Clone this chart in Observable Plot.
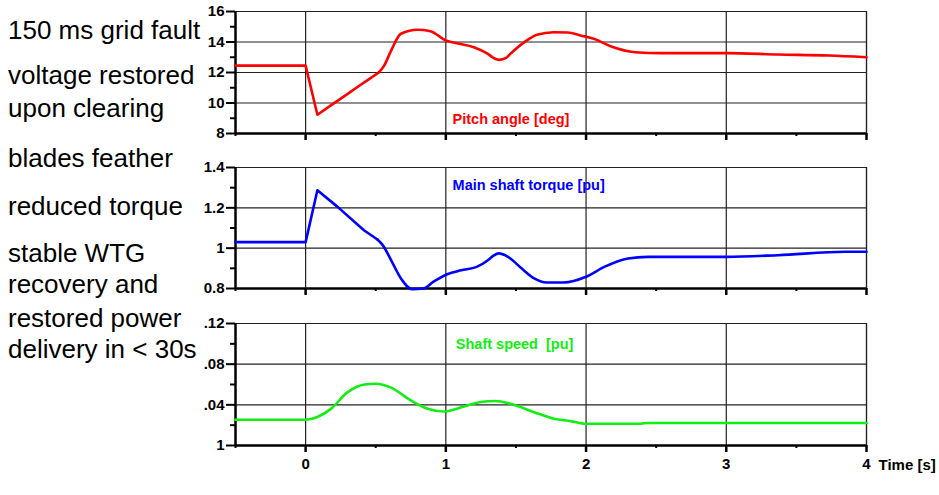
<!DOCTYPE html>
<html>
<head>
<meta charset="utf-8">
<script src="https://cdn.jsdelivr.net/npm/d3@7"></script>
<script src="https://cdn.jsdelivr.net/npm/@observablehq/plot@0.6"></script>
<style>
  html, body { margin: 0; padding: 0; background: #fff; }
  #wrap { position: relative; width: 939px; height: 495px; overflow: hidden; }
  #wrap svg.plot { display: block; font-family: "Liberation Sans", Arial, sans-serif; }
  #wrap svg.plot text { white-space: pre; }
  #notes { position: absolute; left: 0; top: 0; pointer-events: none; }
</style>
</head>
<body>
<div id="wrap"></div>
<script>
// ---------- data ----------
const timeMajor = [0, 1, 2, 3, 4];
const timeMinor = [-0.5, 0.5, 1.5, 2.5, 3.5];
const timeDomain = [-0.5, 4];

const pitchT = [-0.5, 0, 0.084, 0.18, 0.30, 0.37, 0.45, 0.524, 0.56, 0.61, 0.68, 0.80, 0.89, 1.0, 1.08, 1.2, 1.30, 1.333, 1.38, 1.43, 1.46, 1.56, 1.65, 1.77, 1.87, 1.96, 2.06, 2.18, 2.35, 2.54, 3.0, 3.37, 3.73, 4.0];
const pitchV = [12.45, 12.45, 9.23, 9.84, 10.6, 11.05, 11.55, 12.02, 12.45, 13.44, 14.54, 14.8, 14.71, 14.1, 13.92, 13.66, 13.22, 13.0, 12.83, 12.96, 13.22, 13.99, 14.47, 14.64, 14.62, 14.43, 14.2, 13.7, 13.33, 13.27, 13.27, 13.18, 13.11, 13.0];
const pitchKink = 0.524;   // end of the straight ramp

const torqueT = [-0.5, 0, 0.084, 0.226, 0.416, 0.512, 0.55, 0.61, 0.68, 0.76, 0.84, 0.91, 1.01, 1.11, 1.22, 1.30, 1.34, 1.38, 1.42, 1.46, 1.54, 1.63, 1.72, 1.84, 2.0, 2.13, 2.30, 2.44, 3.0, 3.37, 3.85, 4.0];
const torqueV = [1.03, 1.03, 1.287, 1.206, 1.089, 1.043, 1.015, 0.94, 0.85, 0.797, 0.80, 0.833, 0.871, 0.89, 0.907, 0.94, 0.963, 0.974, 0.966, 0.949, 0.90, 0.85, 0.83, 0.83, 0.858, 0.907, 0.949, 0.957, 0.957, 0.965, 0.982, 0.982];
const torqueKink = 0.512;

const speedT = [-0.5, 0, 0.084, 0.18, 0.30, 0.42, 0.5, 0.61, 0.75, 0.87, 0.99, 1.13, 1.25, 1.35, 1.46, 1.63, 1.77, 1.89, 2.0, 2.39, 2.44, 3.0, 4.0];
const speedV = [1.0253, 1.0253, 1.028, 1.036, 1.0525, 1.060, 1.0608, 1.0569, 1.0444, 1.0362, 1.0335, 1.0384, 1.0427, 1.0437, 1.0411, 1.0328, 1.0263, 1.024, 1.0214, 1.0214, 1.0222, 1.0222, 1.0222];
const speedKink = -0.5;

const pitchTicks = [8, 10, 12, 14, 16];
const pitchMinor = [9, 11, 13, 15];
const torqueTicks = [0.8, 1.0, 1.2, 1.4];
const torqueMinor = [0.9, 1.1, 1.3];
const speedTicks = [1.00, 1.04, 1.08, 1.12];
const speedTickLabels = ["1", ".04", ".08", ".12"];
const speedMinor = [1.02, 1.06, 1.10];

const seriesLabels = ["Pitch angle [deg]", "Main shaft torque [pu]", "Shaft speed  [pu]"];
const seriesLabelPos = [[1.048, 8.92], [1.048, 1.312], [1.071, 1.0993]];
const xAxisLabel = "Time [s]";

const noteLines = ["150 ms grid fault", "voltage restored", "upon clearing", "blades feather", "reduced torque", "stable WTG", "recovery and", "restored power", "delivery in < 30s"];

// ---------- panels ----------
function panel({T, V, kink, color, yDomain, yTicks, yMinor, yFmt, label, labelPos, height, mt, mb, bottom}) {
  const data = T.map((t, i) => ({t, v: V[i]}));
  const sharp = data.filter(d => d.t <= kink);
  const smooth = data.filter(d => d.t >= kink);
  const [y0, y1] = yDomain;
  const marks = [
    Plot.gridY(yTicks, {stroke: "#222", strokeOpacity: 1, strokeWidth: 1.2}),
    Plot.gridX(timeMajor, {stroke: "#222", strokeOpacity: 1, strokeWidth: 1.2}),
    Plot.axisY(yTicks, {anchor: "left", tickSize: 9, tickPadding: 2, strokeWidth: 2, tickFormat: yFmt, label: null, fontSize: 15, fontWeight: "bold", fill: "#000"}),
    Plot.axisY(yMinor, {anchor: "left", tickSize: 5, strokeWidth: 2, tickFormat: () => "", label: null}),
    Plot.axisX(timeMajor, {anchor: "bottom", tickSize: 7, strokeWidth: 2.5, tickPadding: 6, tickFormat: bottom ? (d => String(d)) : (() => ""), label: null, fontSize: 15, fontWeight: "bold", fill: "#000"}),
    Plot.axisX(timeMinor, {anchor: "bottom", tickSize: 3, strokeWidth: 2, tickFormat: () => "", label: null}),
    Plot.ruleY([y1], {stroke: "#222", strokeWidth: 1.2}),
    Plot.ruleX([4], {stroke: "#222", strokeWidth: 1.2}),
    Plot.ruleY([y0], {stroke: "#000", strokeWidth: 2.5}),
    Plot.ruleX([-0.5], {stroke: "#000", strokeWidth: 2.5}),
    Plot.line(sharp, {x: "t", y: "v", stroke: color, strokeWidth: 2.6, curve: "linear", strokeLinejoin: "round"}),
    Plot.line(smooth, {x: "t", y: "v", stroke: color, strokeWidth: 2.6, curve: "monotone-x"}),
    Plot.text([label], {x: labelPos[0], y: labelPos[1], text: d => d, fill: color, fontSize: 14.5, fontWeight: "bold", textAnchor: "start"})
  ];
  if (bottom) {
    marks.push(Plot.text([xAxisLabel], {x: 4, y: y0, text: d => d, dx: 12, dy: 20, textAnchor: "start", fontSize: 15, fontWeight: "bold", fill: "#000"}));
  }
  const svg = Plot.plot({
    width: 939, height,
    marginLeft: 235, marginRight: 73, marginTop: mt, marginBottom: mb,
    x: {domain: timeDomain, axis: null},
    y: {domain: yDomain, axis: null},
    style: {fontFamily: "'Liberation Sans', Arial, sans-serif", background: "transparent", overflow: "visible"},
    marks
  });
  svg.classList.add("plot");
  return svg;
}

const wrap = document.getElementById("wrap");
wrap.appendChild(panel({T: pitchT, V: pitchV, kink: pitchKink, color: "#ff0000", yDomain: [8, 16], yTicks: pitchTicks, yMinor: pitchMinor, yFmt: d => String(d), label: seriesLabels[0], labelPos: seriesLabelPos[0], height: 150, mt: 11, mb: 17, bottom: false}));
wrap.appendChild(panel({T: torqueT, V: torqueV, kink: torqueKink, color: "#0000ff", yDomain: [0.8, 1.4], yTicks: torqueTicks, yMinor: torqueMinor, yFmt: d => String(+d.toFixed(2)), label: seriesLabels[1], labelPos: seriesLabelPos[1], height: 150, mt: 17, mb: 12, bottom: false}));
wrap.appendChild(panel({T: speedT, V: speedV, kink: speedKink, color: "#11ee11", yDomain: [1.0, 1.12], yTicks: speedTicks, yMinor: speedMinor, yFmt: d => speedTickLabels[speedTicks.findIndex(t => Math.abs(t - d) < 1e-9)], label: seriesLabels[2], labelPos: seriesLabelPos[2], height: 195, mt: 23, mb: 50, bottom: true}));

// ---------- side notes ----------
const noteBaselines = [39, 84, 117, 167, 215, 262, 293, 327, 358];
const notes = d3.select(wrap).append("svg").attr("id", "notes").attr("width", 939).attr("height", 495);
notes.selectAll("text").data(noteLines).join("text")
  .attr("x", 8)
  .attr("y", (d, i) => noteBaselines[i])
  .attr("font-family", "'Liberation Sans', Arial, sans-serif")
  .attr("font-size", 26)
  .attr("fill", "#000")
  .text(d => d);
</script>
</body>
</html>
